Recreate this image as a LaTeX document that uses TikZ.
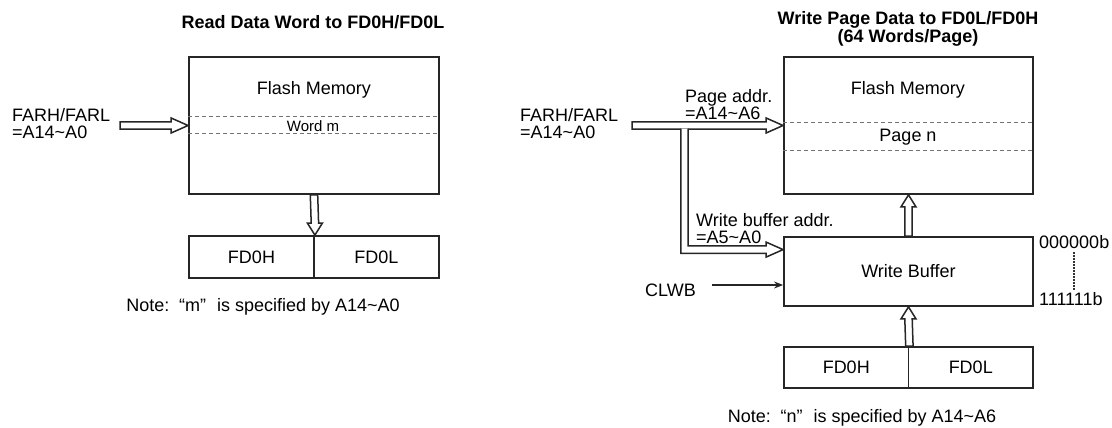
\documentclass[tikz,border=0pt]{standalone}
\usepackage{fontspec}
\setmainfont{Liberation Sans}
\usetikzlibrary{calc,arrows.meta}

\tikzset{
    box/.style={draw=black!85, line width=1.8pt, fill=white, inner sep=0pt,
        font=\fontsize{18}{17}\selectfont},
    txt/.style={inner sep=0pt, font=\fontsize{18}{17}\selectfont},
    ttl/.style={inner sep=0pt, align=center, font=\fontsize{18}{18}\selectfont\bfseries},
    hollow/.style={draw=black!85, line width=1.5pt, fill=white, line join=miter},
    sepline/.style={draw=black!55, line width=1pt, dash pattern=on 4pt off 3pt},
}

% hollow arrow, tail #1, tip #2, head offset #3 (sign gives the direction)
\newcommand{\hollowh}[3]{%
    \draw[hollow] ($(#1)+(0,-3.7)$) -- ($(#2)+(#3,-3.7)$) -- ($(#2)+(#3,-7.5)$) -- (#2)
        -- ($(#2)+(#3,7.5)$) -- ($(#2)+(#3,3.7)$) -- ($(#1)+(0,3.7)$) -- cycle;}
\newcommand{\hollowv}[3]{%
    \draw[hollow] ($(#1)+(-3.7,0)$) -- ($(#2)+(-3.7,#3)$) -- ($(#2)+(-7.5,#3)$) -- (#2)
        -- ($(#2)+(7.5,#3)$) -- ($(#2)+(3.7,#3)$) -- ($(#1)+(3.7,0)$) -- cycle;}

\begin{document}
\begin{tikzpicture}[x=1pt, y=-1pt]
    \useasboundingbox (0,0) rectangle (1112,428);

    %%% read side
    \node[ttl, anchor=base] (title1) at (313,28.5) {Read Data Word to FD0H/FD0L};
    \node[box, minimum width=250pt, minimum height=137pt] (mem1) at (314,125.5) {};
    \node[txt, anchor=base] (fm1) at (314,94.5) {Flash Memory};
    \draw[sepline] ($(mem1.north west)+(0,60.5)$) -- ($(mem1.north east)+(0,60.5)$);
    \draw[sepline] ($(mem1.north west)+(0,77.5)$) -- ($(mem1.north east)+(0,77.5)$);
    \node[inner sep=0pt, anchor=base, font=\fontsize{15}{15}\selectfont] (wordm) at (313,131.4) {Word m};
    \node[txt, anchor=west, align=left] (far1) at (12,124) {FARH/FARL\\=A14\textasciitilde A0};
    \coordinate (far1t) at (120,125.5);
    \hollowh{far1t}{mem1.west}{-17}

    \node[box, minimum width=125pt, minimum height=42pt] (fdh1) at (251.5,257) {FD0H};
    \node[box, minimum width=125pt, minimum height=42pt] (fdl1) at (376.5,257) {FD0L};
    \hollowv{mem1.south}{fdh1.north east}{-12}
    \node[txt, anchor=base] (note1) at (263,311.5) {Note:\, “m”\,\, is specified by A14\textasciitilde A0};

    %%% write side
    \node[ttl] (title2) at (908,29) {Write Page Data to FD0L/FD0H\\(64 Words/Page)};
    \node[box, minimum width=249pt, minimum height=137pt] (mem2) at (908.5,125.5) {};
    \node[txt, anchor=base] (fm2) at (908,94.5) {Flash Memory};
    \draw[sepline] ($(mem2.north west)+(0,66)$) -- ($(mem2.north east)+(0,66)$);
    \draw[sepline] ($(mem2.north west)+(0,94)$) -- ($(mem2.north east)+(0,94)$);
    \node[txt, anchor=base] (pagen) at (908,142) {Page n};

    \node[box, minimum width=249pt, minimum height=69pt] (wbuf) at (908.5,271.5) {Write Buffer};
    \node[box, minimum width=124.5pt, minimum height=41pt] (fdh2) at (846.25,367.5) {FD0H};
    \node[box, minimum width=124.5pt, minimum height=41pt] (fdl2) at (970.75,367.5) {FD0L};
    \hollowv{wbuf.north}{mem2.south}{12}
    \hollowv{fdh2.north east}{wbuf.south}{12}

    \node[txt, anchor=west, align=left] (far2) at (520,124) {FARH/FARL\\=A14\textasciitilde A0};
    \node[txt, anchor=west, align=left] (paddr) at (685,104.5) {Page addr.\\=A14\textasciitilde A6};
    \node[txt, anchor=west, align=left] (waddr) at (696,229) {Write buffer addr.\\=A5\textasciitilde A0};
    \coordinate (far2t) at (632,125.5);
    \coordinate (fork) at (684.5,125.5);
    \coordinate (wtip) at ($(wbuf.north west)+(0,13.5)$);
    \hollowh{far2t}{mem2.west}{-17}
    % branch down to the write buffer
    \draw[hollow] ($(fork)+(-3.7,3)$) -- ($(fork |- wtip)+(-3.7,3.7)$) -- ($(wtip)+(-17,3.7)$)
        -- ($(wtip)+(-17,7.5)$) -- (wtip) -- ($(wtip)+(-17,-7.5)$) -- ($(wtip)+(-17,-3.7)$)
        -- ($(fork |- wtip)+(3.7,-3.7)$) -- ($(fork)+(3.7,3)$);

    \node[txt, anchor=west] (clwb) at (645,290) {CLWB};
    \coordinate (clwbs) at (712,285);
    \draw[line width=1.4pt, black!85, -{Stealth[length=9pt,width=7pt]}] (clwbs) -- (clwbs -| wbuf.west);

    \node[txt, anchor=west] (b0) at (1039,242) {000000b};
    \node[txt, anchor=west] (b1) at (1039,299) {111111b};
    \draw[line width=1.4pt, black!80, dash pattern=on 1.5pt off 1.5pt] ($(b0.west)+(35,10)$) -- ($(b1.west)+(35,-9)$);

    \node[txt, anchor=base] (note2) at (862,422.5) {Note:\, “n”\,\, is specified by A14\textasciitilde A6};
\end{tikzpicture}
\end{document}
